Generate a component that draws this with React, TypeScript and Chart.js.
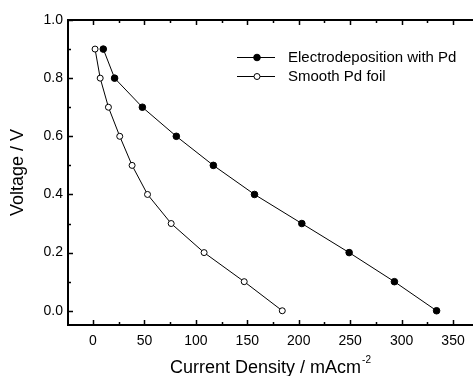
import React, { useEffect, useRef } from 'react';
import { Chart, registerables } from 'chart.js';

Chart.register(...registerables);

// ---- data ----
const voltage = [0.9, 0.8, 0.7, 0.6, 0.5, 0.4, 0.3, 0.2, 0.1, 0.0];
const electroCurrent = [10, 21, 48, 81, 117, 157, 203, 249, 293, 334];
const smoothCurrent = [2, 7, 15, 26, 38, 53, 76, 108, 147, 184];
const seriesNames = ['Electrodeposition with Pd', 'Smooth Pd foil'];
const xTitle = 'Current Density / mAcm';
const xTitleSup = '-2';
const yTitle = 'Voltage / V';
const xRange = [-24.3, 369.4];
const yRange = [-0.049, 1.0];
const xMajor = 50;
const xMinor = 25;
const yMajor = 0.2;
const yMinor = 0.1;

const FONT = '"Liberation Sans", Arial, Helvetica, sans-serif';

const isMult = (v: number, s: number) => Math.abs(v / s - Math.round(v / s)) < 1e-6;

const stepTicks = (s: any, step: number) => {
  const out: any[] = [];
  const i0 = Math.ceil(s.min / step - 1e-9);
  const i1 = Math.floor(s.max / step + 1e-9);
  for (let i = i0; i <= i1; i++) out.push({ value: Math.round(i * step * 1e6) / 1e6 });
  s.ticks = out;
};

const framePlugin = {
  id: 'frame',
  afterDraw(chart: any) {
    const { ctx, chartArea: a, scales } = chart;
    const xs = scales.x;
    const ys = scales.y;
    ctx.save();
    ctx.strokeStyle = '#000';
    ctx.lineWidth = 2;
    ctx.beginPath();
    ctx.moveTo(a.left - 1, a.top);
    ctx.lineTo(a.right, a.top);
    ctx.moveTo(a.left, a.top - 1);
    ctx.lineTo(a.left, a.bottom + 1);
    ctx.moveTo(a.left - 1, a.bottom);
    ctx.lineTo(a.right, a.bottom);
    ctx.stroke();

    ctx.lineWidth = 1.5;
    ctx.beginPath();
    xs.ticks.forEach((t: any) => {
      const v = t.value;
      if (!isMult(v, xMinor)) return;
      const len = isMult(v, xMajor) ? 5 : 3;
      const px = Math.round(xs.getPixelForValue(v)) + 0.5;
      ctx.moveTo(px, a.bottom);
      ctx.lineTo(px, a.bottom - len);
      ctx.moveTo(px, a.top);
      ctx.lineTo(px, a.top + len);
    });
    ys.ticks.forEach((t: any) => {
      const v = t.value;
      if (!isMult(v, yMinor)) return;
      const len = isMult(v, yMajor) ? 5 : 3;
      const py = Math.round(ys.getPixelForValue(v)) + 0.5;
      ctx.moveTo(a.left, py);
      ctx.lineTo(a.left + len, py);
    });
    ctx.stroke();

    // axis titles
    ctx.fillStyle = '#000';
    ctx.font = `18px ${FONT}`;
    const w1 = ctx.measureText(xTitle).width;
    ctx.font = `10px ${FONT}`;
    const w2 = ctx.measureText(xTitleSup).width;
    const cx = (a.left + a.right) / 2;
    const start = cx - (w1 + w2 + 1) / 2;
    ctx.textAlign = 'left';
    ctx.textBaseline = 'alphabetic';
    ctx.font = `18px ${FONT}`;
    ctx.fillText(xTitle, start, 373);
    ctx.font = `10px ${FONT}`;
    ctx.fillText(xTitleSup, start + w1 + 1, 363);

    ctx.save();
    ctx.translate(23, (a.top + a.bottom) / 2);
    ctx.rotate(-Math.PI / 2);
    ctx.font = `18px ${FONT}`;
    ctx.textAlign = 'center';
    ctx.fillText(yTitle, 0, 0);
    ctx.restore();

    // legend
    const rows = [57, 76];
    chart.data.datasets.forEach((ds: any, i: number) => {
      const yy = rows[i] + 0.5;
      ctx.lineWidth = 1;
      ctx.strokeStyle = '#000';
      ctx.beginPath();
      ctx.moveTo(237, yy);
      ctx.lineTo(275, yy);
      ctx.stroke();
      ctx.beginPath();
      ctx.arc(257, yy, ds.pointRadius, 0, Math.PI * 2);
      ctx.fillStyle = ds.pointBackgroundColor;
      ctx.fill();
      ctx.stroke();
      ctx.fillStyle = '#000';
      ctx.font = `15px ${FONT}`;
      ctx.textAlign = 'left';
      ctx.textBaseline = 'middle';
      ctx.fillText(ds.label, 288, rows[i] + 1);
    });
    ctx.restore();
  },
};

export default function App() {
  const ref = useRef<HTMLCanvasElement>(null);
  useEffect(() => {
    if (!ref.current) return;
    const chart = new Chart(ref.current, {
      type: 'scatter',
      data: {
        datasets: [
          {
            label: seriesNames[0],
            data: electroCurrent.map((c, i) => ({ x: c, y: voltage[i] })),
            showLine: true,
            borderColor: '#000',
            borderWidth: 1,
            pointRadius: 3.3,
            pointBackgroundColor: '#000',
            pointBorderColor: '#000',
            pointBorderWidth: 1,
          } as any,
          {
            label: seriesNames[1],
            data: smoothCurrent.map((c, i) => ({ x: c, y: voltage[i] })),
            showLine: true,
            borderColor: '#000',
            borderWidth: 1,
            pointRadius: 3,
            pointBackgroundColor: '#fff',
            pointBorderColor: '#000',
            pointBorderWidth: 1,
          } as any,
        ],
      },
      options: {
        responsive: false,
        animation: false,
        devicePixelRatio: 1,
        layout: { autoPadding: false, padding: { top: 20, right: 0, left: 0, bottom: 0 } },
        plugins: { legend: { display: false }, tooltip: { enabled: false } },
        scales: {
          x: {
            type: 'linear',
            min: xRange[0],
            max: xRange[1],
            grid: { display: false, drawTicks: false },
            border: { display: false },
            afterBuildTicks: (s: any) => stepTicks(s, xMinor),
            afterFit: (s: any) => { s.height = 51; s.paddingLeft = 0; s.paddingRight = 0; },
            ticks: {
              autoSkip: false,
              maxRotation: 0,
              padding: 8,
              color: '#000',
              font: { size: 14, family: FONT },
              callback: (v: any) => (isMult(Number(v), xMajor) ? String(Math.round(Number(v))) : ''),
            },
          },
          y: {
            type: 'linear',
            min: yRange[0],
            max: yRange[1],
            grid: { display: false, drawTicks: false },
            border: { display: false },
            afterBuildTicks: (s: any) => stepTicks(s, yMinor),
            afterFit: (s: any) => { s.width = 68; s.paddingTop = 0; s.paddingBottom = 0; },
            ticks: {
              autoSkip: false,
              padding: 5,
              color: '#000',
              font: { size: 14, family: FONT },
              callback: (v: any) => (isMult(Number(v), yMajor) ? Number(v).toFixed(1) : ''),
            },
          },
        },
      },
      plugins: [framePlugin],
    } as any);
    return () => chart.destroy();
  }, []);
  return (
    <div style={{ position: 'fixed', left: 0, top: 0, width: 473, height: 376, background: '#fff' }}>
      <canvas ref={ref} width={473} height={376} />
    </div>
  );
}
